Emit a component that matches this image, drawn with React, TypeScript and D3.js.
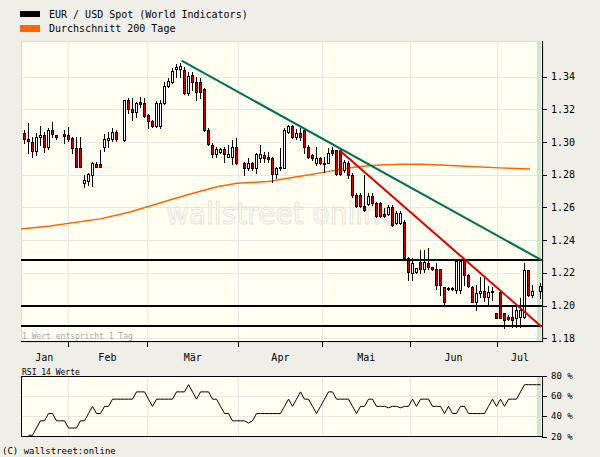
import React from "react";
import * as d3 from "d3";

const W = 600;
const H = 457;

// ---- daily candles (slot index = trading day), null = no quote ----
const opens: (number | null)[] = [
  1.3054, 1.3019, 1.3002, 1.2947, 1.3033, 1.3042, 1.2968, 1.3074, 1.3042, null,
  1.3048, 1.3042, 1.3023, 1.2962, 1.2962, 1.2752, 1.2764, 1.2801, 1.2864, 1.2864,
  1.2968, 1.3013, 1.3017, 1.3062, null, 1.3013, 1.3256, 1.3201, 1.3182, 1.3243,
  1.3237, 1.3164, 1.3127, 1.3099, 1.3099, 1.3239, 1.3343, 1.3369, 1.3445, 1.3445,
  1.3441, 1.3300, 1.3410, 1.3369, 1.3369, 1.3323, 1.3074, 1.2982, 1.2927, 1.2941,
  1.2956, 1.2911, 1.2911, 1.2968, null, 1.2870, 1.2840, 1.2870, 1.2840, 1.2905,
  1.2921, 1.2911, 1.2905, 1.2803, 1.2840, 1.2840, 1.3060, 1.3099, 1.3033, 1.3054,
  1.3074, 1.2972, 1.2921, 1.2870, 1.2903, 1.2870, 1.2870, 1.2952, 1.2952, 1.2952,
  1.2829, 1.2874, 1.2799, 1.2676, 1.2676, 1.2609, 1.2621, 1.2670, 1.2626, 1.2626,
  1.2560, 1.2560, 1.2605, 1.2503, 1.2503, 1.2513, 1.2289, 1.2199, 1.2206, 1.2269,
  1.2222, 1.2259, 1.2234, 1.2222, 1.2222, 1.2112, 1.2109, 1.2106, 1.2095, 1.2095,
  1.2275, 1.2187, 1.2116, 1.2024, 1.2075, 1.2089, 1.2054, 1.2089, 1.1953, 1.2085,
  1.1953, 1.1928, 1.1928, 1.1922, 1.1928, 1.1932, 1.2218, 1.2065, null, 1.2089,
];
const highs: (number | null)[] = [
  1.3074, 1.3115, 1.3033, 1.3054, 1.3099, 1.3064, 1.3084, 1.3125, 1.3042, null,
  1.3074, 1.3091, 1.3033, 1.3033, 1.3033, 1.2799, 1.2813, 1.2880, 1.2880, 1.2952,
  1.3050, 1.3064, 1.3084, 1.3074, null, 1.3256, 1.3268, 1.3268, 1.3247, 1.3274,
  1.3268, 1.3172, 1.3135, 1.3251, 1.3258, 1.3369, 1.3390, 1.3451, 1.3478, 1.3482,
  1.3461, 1.3431, 1.3431, 1.3400, 1.3390, 1.3331, 1.3084, 1.2993, 1.2972, 1.2964,
  1.2972, 1.2982, 1.3013, 1.3023, null, 1.2880, 1.2901, 1.2880, 1.2932, 1.2982,
  1.2938, 1.2938, 1.2911, 1.2850, 1.2962, 1.3086, 1.3104, 1.3104, 1.3080, 1.3084,
  1.3080, 1.2982, 1.2925, 1.2972, 1.2911, 1.2911, 1.2962, 1.2972, 1.2952, 1.2952,
  1.2891, 1.2886, 1.2809, 1.2691, 1.2689, 1.2799, 1.2691, 1.2689, 1.2635, 1.2635,
  1.2595, 1.2615, 1.2615, 1.2580, 1.2580, 1.2524, 1.2299, 1.2289, 1.2230, 1.2340,
  1.2340, 1.2350, 1.2234, 1.2259, 1.2222, 1.2116, 1.2112, 1.2112, 1.2283, 1.2283,
  1.2283, 1.2193, 1.2120, 1.2126, 1.2173, 1.2177, 1.2120, 1.2116, 1.1953, 1.2085,
  1.1955, 1.1943, 1.1993, 1.1993, 1.2045, 1.2259, 1.2218, 1.2126, null, 1.2137,
];
const lows: (number | null)[] = [
  1.2993, 1.2932, 1.2911, 1.2921, 1.2982, 1.2941, 1.2956, 1.3033, 1.3019, null,
  1.2995, 1.3009, 1.2932, 1.2846, 1.2846, 1.2723, 1.2735, 1.2733, 1.2846, 1.2846,
  1.2947, 1.2972, 1.3009, 1.3009, null, 1.3009, 1.3176, 1.3135, 1.3155, 1.3217,
  1.3155, 1.3084, 1.3091, 1.3091, 1.3084, 1.3233, 1.3335, 1.3363, 1.3400, 1.3396,
  1.3294, 1.3288, 1.3319, 1.3258, 1.3268, 1.3068, 1.2982, 1.2911, 1.2911, 1.2935,
  1.2880, 1.2911, 1.2864, 1.2866, null, 1.2799, 1.2829, 1.2829, 1.2809, 1.2880,
  1.2880, 1.2880, 1.2758, 1.2779, 1.2829, 1.2840, 1.3054, 1.3027, 1.3019, 1.3013,
  1.2932, 1.2901, 1.2891, 1.2860, 1.2864, 1.2819, 1.2870, 1.2921, 1.2799, 1.2799,
  1.2819, 1.2779, 1.2666, 1.2605, 1.2603, 1.2580, 1.2615, 1.2615, 1.2540, 1.2540,
  1.2540, 1.2554, 1.2487, 1.2499, 1.2499, 1.2289, 1.2157, 1.2157, 1.2199, 1.2198,
  1.2207, 1.2222, 1.2218, 1.2100, 1.2065, 1.2010, 1.2095, 1.2095, 1.2075, 1.2075,
  1.2126, 1.2112, 1.2022, 1.1973, 1.2054, 1.2030, 1.2004, 1.2034, 1.1922, 1.1922,
  1.1861, 1.1912, 1.1871, 1.1871, 1.1871, 1.1922, 1.2059, 1.2054, null, 1.2048,
];
const closes: (number | null)[] = [
  1.3017, 1.3009, 1.2947, 1.3029, 1.3042, 1.2968, 1.3074, 1.3048, 1.3031, null,
  1.3039, 1.3021, 1.2962, 1.2846, 1.2846, 1.2768, 1.2805, 1.2870, 1.2846, 1.2846,
  1.3017, 1.3025, 1.3062, 1.3017, null, 1.3256, 1.3201, 1.3182, 1.3239, 1.3233,
  1.3160, 1.3127, 1.3099, 1.3239, 1.3239, 1.3343, 1.3374, 1.3437, 1.3461, 1.3465,
  1.3300, 1.3404, 1.3369, 1.3308, 1.3308, 1.3074, 1.2988, 1.2927, 1.2956, 1.2956,
  1.2927, 1.2927, 1.2968, 1.2870, null, 1.2843, 1.2870, 1.2840, 1.2925, 1.2925,
  1.2901, 1.2897, 1.2803, 1.2843, 1.2850, 1.3074, 1.3099, 1.3033, 1.3054, 1.3033,
  1.2972, 1.2911, 1.2905, 1.2901, 1.2870, 1.2874, 1.2935, 1.2935, 1.2805, 1.2805,
  1.2880, 1.2799, 1.2676, 1.2609, 1.2609, 1.2585, 1.2670, 1.2626, 1.2548, 1.2548,
  1.2548, 1.2605, 1.2493, 1.2568, 1.2568, 1.2289, 1.2206, 1.2262, 1.2228, 1.2222,
  1.2269, 1.2234, 1.2222, 1.2126, 1.2126, 1.2024, 1.2106, 1.2109, 1.2275, 1.2275,
  1.2187, 1.2120, 1.2024, 1.2075, 1.2089, 1.2054, 1.2085, 1.2081, 1.1922, 1.1922,
  1.1912, 1.1916, 1.1912, 1.1973, 1.1973, 1.2218, 1.2065, 1.2089, null, 1.2120,
];

// ---- 200-day moving average (day index, value) ----
const maDays = [-0.75, 6.5, 19, 26.5, 31.5, 37.25, 42.25, 48.25, 53.25, 56.5, 61, 66, 71, 76, 79, 84, 89, 94, 99, 104, 111.5, 119, 126.5];
const maValues = [1.2468, 1.2487, 1.253, 1.2572, 1.2609, 1.2652, 1.2687, 1.2727, 1.2748, 1.2752, 1.2758, 1.2779, 1.2799, 1.2819, 1.2834, 1.285, 1.286, 1.2864, 1.2864, 1.286, 1.2851, 1.2842, 1.2835];

// ---- RSI 14 (per day) ----
const rsiValues: (number | null)[] = [
  null, 21.4, 21.4, 28.6, 35.7, 35.7, 42.9, 42.9, 35.7, 35.7,
  35.7, 28.6, 28.6, 28.6, 35.7, 35.7, 42.9, 50, 42.9, 42.9,
  50, 50, 57.1, 57.1, 57.1, 57.1, 57.1, 57.1, 64.3, 64.3,
  64.3, 57.1, 50, 57.1, 57.1, 57.1, 57.1, 57.1, 64.3, 64.3,
  64.3, 71.4, 64.3, 57.1, 64.3, 64.3, 64.3, 57.1, 57.1, 50,
  42.9, 42.9, 35.7, 35.7, 35.7, 35.7, 33.5, 35.7, 42.9, 42.9,
  42.9, 42.9, 42.9, 42.9, 42.9, 50, 57.1, 50, 57.1, 64.3,
  57.1, 57.1, 50, 42.9, 50, 57.1, 64.3, 64.3, 57.1, 57.1,
  57.1, 57.1, 50, 42.9, 50, 50, 57.1, 57.1, 50, 50,
  50, 48.6, 50, 50, 48.6, 50, 50, 57.1, 50, 57.1,
  57.1, 57.1, 50, 50, 50, 42.9, 50, 42.9, 42.9, 50,
  50, 42.9, 42.9, 42.9, 42.9, 42.9, 50, 57.1, 50, 57.1,
  50, 57.1, 57.1, 57.1, 64.3, 71.4, 71.4, 71.4, 71.4, 71.4,
];

// ---- trend lines & support levels ----
const greenTrendDays = [39.4, 129.75];
const greenTrendValues = [1.3498, 1.2273];
const redTrendDays = [78.8, 129.4];
const redTrendValues = [1.2952, 1.1871];
const supportLevels = [1.2279, 1.1998, 1.1872];

// ---- axes ----
const priceTicks = [1.18, 1.2, 1.22, 1.24, 1.26, 1.28, 1.3, 1.32, 1.34];
const rsiTicks = [20, 40, 60, 80];
const monthNames = ["Jan", "Feb", "Mär", "Apr", "Mai", "Jun", "Jul"];
const monthBounds = [10.9, 30.8, 53.6, 74.6, 96.5, 118.3];

const MONO = "'DejaVu Sans Mono', monospace";

export default function App() {
  const left = 21, right = 543, top = 41, bottom = 342;
  const rTop = 376, rBottom = 437;
  const x = d3.scaleLinear().domain([-0.75, 129.75]).range([left, right]);
  const y = d3.scaleLinear().domain([1.1777, 1.3618]).range([bottom, top]);
  const yr = d3.scaleLinear().domain([20, 80]).range([436.7, 376]);

  const maLine = d3
    .line<number>()
    .x((_, i) => x(maDays[i]))
    .y((v) => y(v))(maValues) as string;

  const rsiLine = d3
    .line<number | null>()
    .defined((v) => v !== null)
    .x((_, i) => Math.round(x(i)) + 0.5)
    .y((v) => yr(v as number))(rsiValues) as string;

  const crisp = (v: number) => Math.round(v) + 0.5;
  const edges = [-0.75, ...monthBounds, 129.75];

  const candles = opens.map((o, i) => {
    if (o === null) return null;
    const h = highs[i] as number, l = lows[i] as number, c = closes[i] as number;
    const cx = Math.round(x(i));
    const yT = Math.round(y(Math.max(o, c)));
    const yB = Math.round(y(Math.min(o, c)));
    const up = c >= o;
    return (
      <g key={i}>
        <line x1={cx + 0.5} x2={cx + 0.5} y1={Math.round(y(h))} y2={Math.round(y(l)) + 1} stroke="#000" strokeWidth={1} />
        <rect x={cx - 0.5} y={yT + 0.5} width={2} height={Math.max(yB - yT, 1)} fill={up ? "#ffffff" : "#cc0000"} stroke="#000" strokeWidth={1} />
      </g>
    );
  });

  return (
    <svg width={W} height={H} style={{ position: "absolute", left: 0, top: 0, display: "block" }} shapeRendering="crispEdges">
      <rect x={0} y={0} width={W} height={H} fill="#efefe7" />

      {/* legend */}
      <rect x={20} y={11} width={20} height={6} fill="#000" />
      <text x={49} y={18} fontFamily={MONO} fontSize={10} fill="#000">EUR / USD Spot (World Indicators)</text>
      <rect x={20} y={25} width={20} height={7} fill="#ff6600" />
      <text x={49} y={32} fontFamily={MONO} fontSize={10} fill="#000">Durchschnitt 200 Tage</text>

      {/* main plot */}
      <rect x={left + 0.5} y={top + 0.5} width={right - left} height={bottom - top} fill="#fffff2" stroke="#dcdcd4" strokeWidth={1} />
      {priceTicks.map((p) => (
        <line key={p} x1={left} x2={right} y1={crisp(y(p))} y2={crisp(y(p))} stroke="#e8e8e2" strokeWidth={1} />
      ))}
      {monthBounds.map((m) => (
        <line key={m} x1={crisp(x(m))} x2={crisp(x(m))} y1={top} y2={bottom} stroke="#e8e8e2" strokeWidth={1} />
      ))}

      {/* watermark */}
      <text x={282} y={224} textAnchor="middle" fontFamily="'DejaVu Sans', sans-serif" fontSize={30} fill="none" stroke="#e3e3dc" strokeWidth={1} textLength={232} lengthAdjust="spacingAndGlyphs" shapeRendering="auto">wallstreet online</text>

      {/* current-day band */}
      <rect x={537} y={top + 1} width={4} height={bottom - top - 1} fill="#cce8cc" />

      <text x={22} y={339} fontFamily={MONO} fontSize={8} fill="#a8a8a8">1 Wert entspricht 1 Tag</text>

      <path d={maLine} fill="none" stroke="#ff6600" strokeWidth={1.5} shapeRendering="auto" />

      {candles}

      {supportLevels.map((s) => (
        <line key={s} x1={left} x2={right} y1={Math.round(y(s))} y2={Math.round(y(s))} stroke="#000" strokeWidth={2} />
      ))}

      <line x1={x(greenTrendDays[0])} y1={y(greenTrendValues[0])} x2={x(greenTrendDays[1])} y2={y(greenTrendValues[1])} stroke="#007050" strokeWidth={2} shapeRendering="auto" />
      <line x1={x(redTrendDays[0])} y1={y(redTrendValues[0])} x2={x(redTrendDays[1])} y2={y(redTrendValues[1])} stroke="#dd0000" strokeWidth={2} shapeRendering="auto" />

      {/* axes */}
      <line x1={right - 0.5} x2={right - 0.5} y1={top} y2={bottom} stroke="#000" />
      <line x1={left} x2={right} y1={bottom - 0.5} y2={bottom - 0.5} stroke="#000" />
      {priceTicks.map((p) => (
        <g key={p}>
          <line x1={right} x2={right + 4} y1={crisp(y(p))} y2={crisp(y(p))} stroke="#000" />
          <text x={551} y={y(p) + 3.5} fontFamily={MONO} fontSize={10} fill="#000">{p.toFixed(2)}</text>
        </g>
      ))}
      {monthBounds.map((m) => (
        <line key={m} x1={crisp(x(m))} x2={crisp(x(m))} y1={bottom} y2={bottom + 5} stroke="#000" />
      ))}
      {monthNames.map((n, i) => (
        <text key={n} x={(x(edges[i]) + x(edges[i + 1])) / 2} y={361} textAnchor="middle" fontFamily={MONO} fontSize={10} fill="#000">{n}</text>
      ))}

      {/* RSI panel */}
      <text x={22} y={375} fontFamily={MONO} fontSize={8} fill="#000">RSI 14 Werte</text>
      <rect x={left + 0.5} y={rTop + 0.5} width={right - left - 1} height={rBottom - rTop - 1} fill="#fffff2" />
      {[40, 60].map((v) => (
        <line key={v} x1={left} x2={right - 1} y1={crisp(yr(v))} y2={crisp(yr(v))} stroke="#e8e8e2" />
      ))}
      {monthBounds.map((m) => (
        <line key={m} x1={crisp(x(m))} x2={crisp(x(m))} y1={rTop} y2={rBottom} stroke="#e8e8e2" />
      ))}
      <rect x={537} y={rTop + 1} width={4} height={rBottom - rTop - 2} fill="#cce8cc" />
      <path d={rsiLine} fill="none" stroke="#000" strokeWidth={1} shapeRendering="auto" />
      <rect x={left + 0.5} y={rTop + 0.5} width={right - left - 1} height={rBottom - rTop - 1} fill="none" stroke="#000" />
      {rsiTicks.map((v) => (
        <g key={v}>
          <line x1={right - 1} x2={right + 4} y1={crisp(yr(v))} y2={crisp(yr(v))} stroke="#000" />
          <text x={551} y={yr(v) + 3} fontFamily={MONO} fontSize={9} fill="#000">{v} %</text>
        </g>
      ))}

      <text x={2} y={454} fontFamily={MONO} fontSize={9} fill="#000">(C) wallstreet:online</text>
    </svg>
  );
}
